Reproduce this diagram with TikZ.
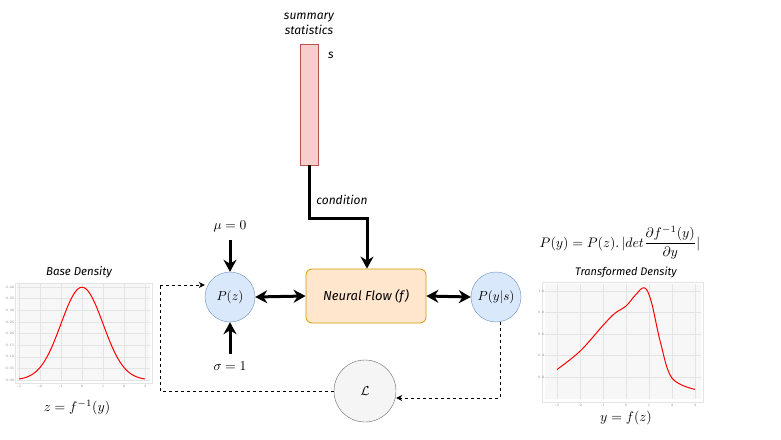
\documentclass[tikz,border=0pt]{standalone}
\usepackage{fontspec}
\usetikzlibrary{arrows.meta}
\newfontfamily\hand{Fira Sans}
\newcommand{\mysc}[2]{\scalebox{#1}{$#2$}}
\definecolor{bluefill}{HTML}{DAE8FC}
\definecolor{blueline}{HTML}{6C8EBF}
\definecolor{orfill}{HTML}{FFE6CC}
\definecolor{orline}{HTML}{D79B00}
\definecolor{redfill}{HTML}{F8CECC}
\definecolor{redline}{HTML}{B85450}
\definecolor{greyfill}{HTML}{F5F5F5}
\definecolor{greyline}{HTML}{666666}
\definecolor{gridc}{HTML}{E4E4E4}
\begin{document}
\begin{tikzpicture}[x=1pt,y=-1pt,
  handtxt/.style={font=\hand\itshape\fontsize{12}{14}\selectfont},
  circ/.style={circle,draw=blueline,fill=bluefill,minimum size=50pt,inner sep=0pt},
  bigarrow/.style={line width=3pt,-{Stealth[length=12pt,width=13pt]}},
  dblarrow/.style={line width=3pt,{Stealth[length=12pt,width=13pt]}-{Stealth[length=12pt,width=13pt]}},
  dasharrow/.style={dashed,line width=0.9pt,-{Stealth[length=6pt,width=6pt]}},
  gridl/.style={gridc,line width=0.5pt},
  tick/.style={font=\fontsize{3.5}{4}\selectfont,text=gray,inner sep=0.5pt}
]
\useasboundingbox (0,0) rectangle (781,439);

% summary statistics
\node[handtxt,align=center,font=\hand\itshape\fontsize{12}{15}\selectfont] (stxt) at (309,24) {summary\\statistics};
\node[draw=redline,fill=redfill,minimum width=18pt,minimum height=121pt,inner sep=0pt] (s) at (309,104.5) {};
\node[handtxt] (slab) at (331,55) {s};

% neural flow
\node[draw=orline,fill=orfill,rounded corners=6pt,minimum width=120pt,minimum height=54pt,line width=0.8pt,handtxt,font=\hand\itshape\fontsize{13}{15}\selectfont] (nf) at (366,296) {Neural Flow (f)};

\coordinate (bend1) at (309,218);
\coordinate (bend2) at (367,218);
\draw[line width=3pt,-{Stealth[length=12pt,width=13pt]}] (s.south) -- (bend1) -- (bend2) -- (nf.north -| bend2);
\node[handtxt] (cond) at (342,200) {condition};

% circles
\node[circ] (pz) at (230,297) {\mysc{1.3}{P(z)}};
\node[circ] (py) at (496,297) {\mysc{1.3}{P(y|s)}};
\node[circle,draw=greyline,fill=greyfill,minimum size=62pt,inner sep=0pt] (L) at (365,391) {\mysc{1.3}{\mathcal{L}}};

\node (mu) at (230,226) {\mysc{1.35}{\mu=0}};
\node (sig) at (230,366) {\mysc{1.35}{\sigma=1}};
\draw[bigarrow] (mu.south) ++(0,5) -- (pz.north);
\draw[bigarrow] (sig.north) ++(0,-4) -- (pz.south);
\draw[dblarrow] (pz.east) -- (nf.west);
\draw[dblarrow] (nf.east) -- (py.west);

% dashed feedback
\coordinate (d1) at (500,398);
\coordinate (d3) at (160,285);
\draw[dasharrow] (py.south -| d1) -- (d1) -- (L.east |- d1);
\draw[dashed,line width=0.9pt] (L.west) -- (L.west -| d3) -- (d3);
\draw[dasharrow] (d3) -- (pz.west |- d3);

% ---------- Base density plot ----------
\fill[white] (15,283) rectangle (152,383);
\fill[gray!6] (17,284) rectangle (150,380);
\foreach \i in {-3,...,3} \draw[gridl] ({82+21*\i},284) -- ({82+21*\i},380);
\foreach \j in {0,1,...,8} \draw[gridl] (17,{380-232.5*0.05*\j}) -- (150,{380-232.5*0.05*\j});
\draw[gridc,line width=0.6pt] (15,283) rectangle (152,383);
\foreach \i in {-3,...,3} \node[tick] at ({82+21*\i},386) {\i};
\foreach \j/\l in {0/0.00,1/0.05,2/0.10,3/0.15,4/0.20,5/0.25,6/0.30,7/0.35,8/0.40} \node[tick,anchor=east] at (15,{380-232.5*0.05*\j}) {\l};
\draw[red,line width=1pt] plot[domain=-3:3,samples=80,smooth] ({82+21*\x},{380-232.5*0.39894*exp(-0.5*\x*\x)});
\node[handtxt,font=\hand\itshape\fontsize{11.5}{13}\selectfont] (bt) at (79,272) {Base Density};
\node (zf) at (77,408) {\mysc{1.38}{z=f^{-1}(y)}};

% ---------- Transformed density plot ----------
\fill[white] (542,282) rectangle (703,402);
\fill[gray!6] (545,284) rectangle (701,399);
\foreach \i in {-3,...,3} \draw[gridl] ({626+23*\i},284) -- ({626+23*\i},399);
\foreach \j in {1,...,5} \draw[gridl] (545,{398.5-107.5*0.2*\j}) -- (701,{398.5-107.5*0.2*\j});
\draw[gridc,line width=0.6pt] (542,282) rectangle (703,402);
\foreach \i in {-3,...,3} \node[tick] at ({626+23*\i},405) {\i};
\foreach \j/\l in {1/0.2,2/0.4,3/0.6,4/0.8,5/1.0} \node[tick,anchor=east] at (545,{398.5-107.5*0.2*\j}) {\l};
\draw[red,line width=1pt] plot[smooth,tension=0.6] coordinates {
 ({626+23*-3},{398.5-107.5*0.27})
 ({626+23*-2},{398.5-107.5*0.44})
 ({626+23*-1},{398.5-107.5*0.68})
 ({626+23*-0.5},{398.5-107.5*0.79})
 ({626+23*0},{398.5-107.5*0.86})
 ({626+23*0.4},{398.5-107.5*0.96})
 ({626+23*0.8},{398.5-107.5*1.03})
 ({626+23*1.1},{398.5-107.5*0.90})
 ({626+23*1.5},{398.5-107.5*0.52})
 ({626+23*2},{398.5-107.5*0.19})
 ({626+23*3},{398.5-107.5*0.085})};
\node[handtxt,font=\hand\itshape\fontsize{11}{13}\selectfont] (tt) at (626,272) {Transformed Density};
\node (yf) at (626,418) {\mysc{1.38}{y=f(z)}};
\node (form) at (620,243) {\mysc{1.38}{P(y)=P(z).\,|det\displaystyle\frac{\partial f^{-1}(y)}{\partial y}|}};
\end{tikzpicture}
\end{document}
